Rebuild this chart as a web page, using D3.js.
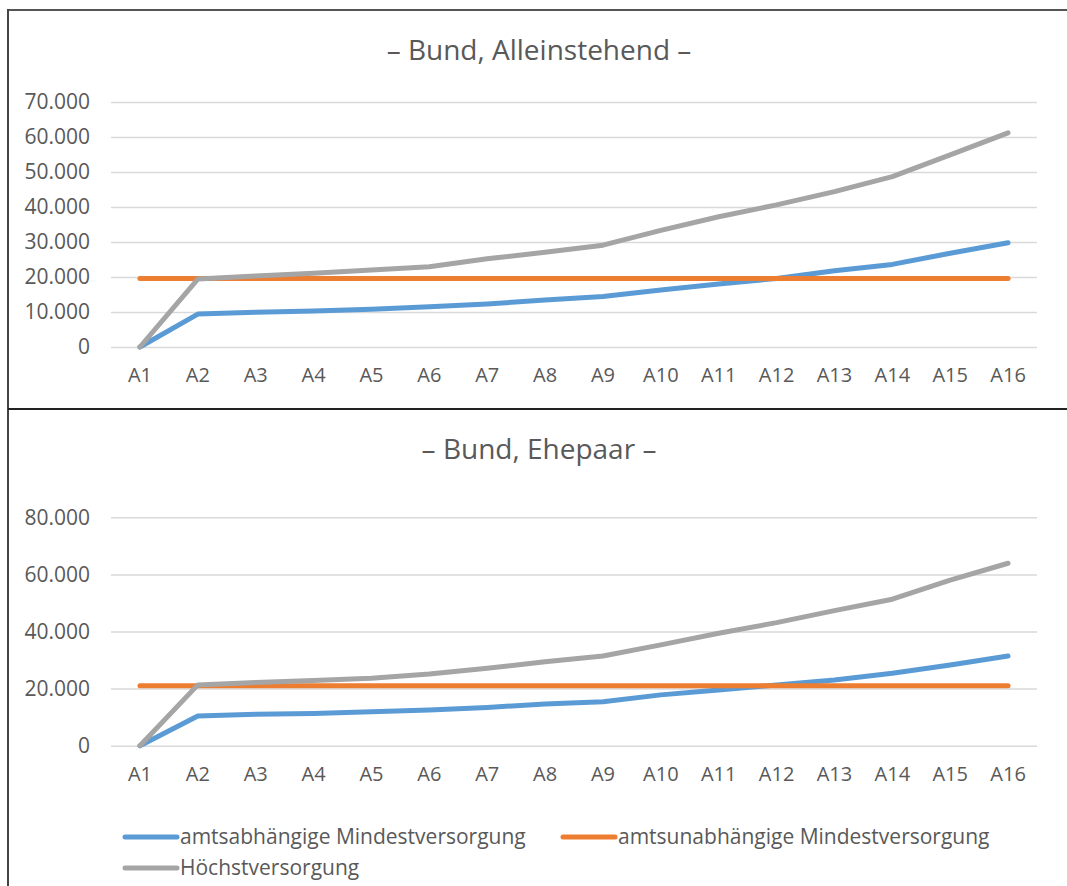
<!DOCTYPE html>
<html>
<head>
<meta charset="utf-8">
<script src="https://cdn.jsdelivr.net/npm/d3@7"></script>
<style>
  html, body { margin: 0; padding: 0; background: #fff; }
  svg { display: block; }
  text { font-family: "Open Sans", "Noto Sans", sans-serif; fill: #595959; }
</style>
</head>
<body>
<svg id="chart" width="1067" height="886"></svg>
<script>
// Besoldungsgruppen A1 .. A16
const categories = ["A1","A2","A3","A4","A5","A6","A7","A8","A9","A10","A11","A12","A13","A14","A15","A16"];

const seriesNames = ["amtsabhängige Mindestversorgung", "amtsunabhängige Mindestversorgung", "Höchstversorgung"];
const seriesColors = ["#5B9BD5", "#ED7D31", "#A5A5A5"];

// Bund, Alleinstehend (EUR / Jahr)
const singleAmtsabh = [0, 9400, 9900, 10300, 10800, 11500, 12300, 13400, 14400, 16300, 18000, 19600, 21800, 23600, 26800, 29800];
const singleAmtsunabh = [19600, 19600, 19600, 19600, 19600, 19600, 19600, 19600, 19600, 19600, 19600, 19600, 19600, 19600, 19600, 19600];
const singleHoechst = [0, 19400, 20300, 21100, 22000, 22900, 25200, 27100, 29100, 33300, 37200, 40600, 44400, 48700, 54900, 61200];
const singleTicks = [0, 10000, 20000, 30000, 40000, 50000, 60000, 70000];

// Bund, Ehepaar (EUR / Jahr)
const coupleAmtsabh = [0, 10400, 11000, 11300, 11900, 12500, 13400, 14600, 15400, 17800, 19500, 21300, 23000, 25400, 28300, 31400];
const coupleAmtsunabh = [21000, 21000, 21000, 21000, 21000, 21000, 21000, 21000, 21000, 21000, 21000, 21000, 21000, 21000, 21000, 21000];
const coupleHoechst = [0, 21300, 22100, 22800, 23600, 25100, 27100, 29400, 31400, 35300, 39400, 43100, 47300, 51300, 58000, 63900];
const coupleTicks = [0, 20000, 40000, 60000, 80000];

const svg = d3.select("#chart");
const fmt = d3.format(",.0f");
const deFmt = v => fmt(v).replace(/,/g, ".");

// Frames around the two panels
svg.append("rect").attr("x", 0).attr("y", 0).attr("width", 1067).attr("height", 886).attr("fill", "#fff");
svg.append("line").attr("x1", 8).attr("x2", 1067).attr("y1", 10).attr("y2", 10)
  .attr("stroke", "#555").attr("stroke-width", 2);
svg.append("line").attr("x1", 8).attr("x2", 8).attr("y1", 9).attr("y2", 886)
  .attr("stroke", "#444").attr("stroke-width", 2);
svg.append("line").attr("x1", 8).attr("x2", 1067).attr("y1", 409).attr("y2", 409)
  .attr("stroke", "#222").attr("stroke-width", 2);

function drawPanel(opts) {
  const g = svg.append("g");
  const x = d3.scaleBand().domain(categories).range([111, 1037]);
  const y = d3.scaleLinear().domain([0, opts.ticks[opts.ticks.length - 1]]).range([opts.y0, opts.yTop]);

  // title
  g.append("text")
    .attr("x", 539).attr("y", opts.titleY)
    .attr("text-anchor", "middle")
    .style("font-size", "28px")
    .text(opts.title);

  // gridlines + y labels
  const yAxis = d3.axisLeft(y).tickValues(opts.ticks).tickSize(-(1037 - 111)).tickPadding(21).tickFormat(deFmt);
  const ya = g.append("g").attr("transform", "translate(111,0)").call(yAxis);
  ya.select(".domain").remove();
  ya.selectAll(".tick line").attr("stroke", "#D9D9D9").attr("stroke-width", 1.5);
  ya.selectAll(".tick text").style("font-size", "21px").attr("fill", "#595959")
    .style("font-family", "'Open Sans', sans-serif");

  // x labels
  const xAxis = d3.axisBottom(x).tickSize(0).tickPadding(21);
  const xa = g.append("g").attr("transform", `translate(0,${opts.y0})`).call(xAxis);
  xa.select(".domain").remove();
  xa.selectAll(".tick text").style("font-size", "20px").attr("fill", "#595959")
    .style("font-family", "'Open Sans', sans-serif");

  const line = d3.line()
    .x((d, i) => x(categories[i]) + x.bandwidth() / 2)
    .y(d => y(d));

  opts.series.forEach((vals, k) => {
    g.append("path")
      .datum(vals)
      .attr("d", line)
      .attr("fill", "none")
      .attr("stroke", seriesColors[k])
      .attr("stroke-width", 5)
      .attr("stroke-linecap", "round")
      .attr("stroke-linejoin", "round");
  });
}

drawPanel({
  title: "– Bund, Alleinstehend –",
  titleY: 60,
  y0: 347, yTop: 102,
  ticks: singleTicks,
  series: [singleAmtsabh, singleAmtsunabh, singleHoechst]
});

drawPanel({
  title: "– Bund, Ehepaar –",
  titleY: 459,
  y0: 745.7, yTop: 517.3,
  ticks: coupleTicks,
  series: [coupleAmtsabh, coupleAmtsunabh, coupleHoechst]
});

// legend
const legendItems = [
  { x: 125, y: 837 },
  { x: 563, y: 837 },
  { x: 125, y: 868 }
];
const lg = svg.append("g");
seriesNames.forEach((name, k) => {
  const p = legendItems[k];
  lg.append("line")
    .attr("x1", p.x).attr("x2", p.x + 52)
    .attr("y1", p.y).attr("y2", p.y)
    .attr("stroke", seriesColors[k]).attr("stroke-width", 5)
    .attr("stroke-linecap", "round");
  lg.append("text")
    .attr("x", p.x + 55).attr("y", p.y)
    .attr("dy", "0.35em")
    .style("font-size", "21px")
    .text(name);
});
</script>
</body>
</html>
